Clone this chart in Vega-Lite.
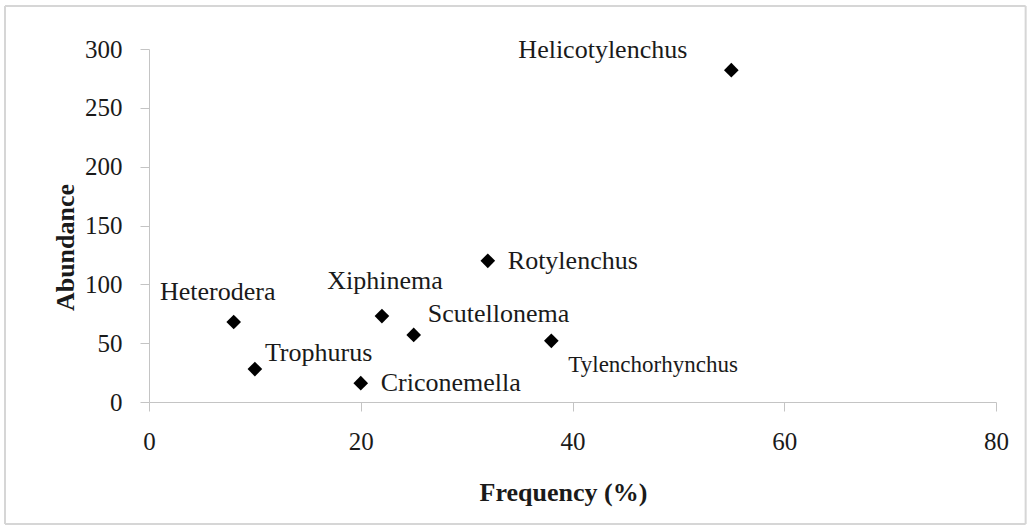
{
  "$schema": "https://vega.github.io/schema/vega-lite/v6.json",
  "width": 847,
  "height": 353,
  "autosize": {"type": "none"},
  "padding": {"left": 149, "top": 49, "right": 36, "bottom": 127},
  "background": "white",
  "config": {"view": {"stroke": null}, "font": "Liberation Serif"},
  "data": {
    "values": [
      {"genus": "Helicotylenchus", "freq": 55, "abund": 282},
      {"genus": "Rotylenchus", "freq": 32, "abund": 120},
      {"genus": "Heterodera", "freq": 8, "abund": 68},
      {"genus": "Xiphinema", "freq": 22, "abund": 73},
      {"genus": "Scutellonema", "freq": 25, "abund": 57},
      {"genus": "Tylenchorhynchus", "freq": 38, "abund": 52},
      {"genus": "Trophurus", "freq": 10, "abund": 28},
      {"genus": "Criconemella", "freq": 20, "abund": 16}
    ]
  },
  "layer": [
    {
      "mark": {"type": "point", "shape": "diamond", "filled": true, "color": "#000000", "opacity": 1, "size": 215},
      "encoding": {
        "x": {
          "field": "freq", "type": "quantitative", "title": "Frequency (%)",
          "scale": {"domain": [0, 80], "nice": false, "zero": false},
          "axis": {
            "values": [0, 20, 40, 60, 80], "grid": false,
            "domainColor": "#c4c4c4", "tickColor": "#c4c4c4", "tickSize": 9,
            "labelFont": "Liberation Serif", "labelFontSize": 25, "labelColor": "#1a1a1a",
            "labelPadding": 18, "labelFlush": false, "labelOverlap": false,
            "titleFont": "Liberation Serif", "titleFontSize": 26, "titleFontWeight": "bold", "titleColor": "#1a1a1a",
            "titleX": 414, "titleY": 98, "titleBaseline": "alphabetic", "titleAlign": "center"
          }
        },
        "y": {
          "field": "abund", "type": "quantitative", "title": "Abundance",
          "scale": {"domain": [0, 300], "nice": false, "zero": false},
          "axis": {
            "values": [0, 50, 100, 150, 200, 250, 300], "grid": false,
            "domainColor": "#c4c4c4", "tickColor": "#c4c4c4", "tickSize": 9,
            "labelFont": "Liberation Serif", "labelFontSize": 25, "labelColor": "#1a1a1a",
            "labelPadding": 18, "labelFlush": false, "labelOverlap": false,
            "titleFont": "Liberation Serif", "titleFontSize": 26, "titleFontWeight": "bold", "titleColor": "#1a1a1a",
            "titleX": -76, "titleY": 198, "titleAngle": 270, "titleBaseline": "alphabetic", "titleAlign": "center"
          }
        }
      }
    },
    {
      "transform": [{"filter": "datum.genus === 'Helicotylenchus'"}],
      "mark": {"type": "rule", "color": "#d6d6d6", "strokeWidth": 2, "clip": false},
      "encoding": {
        "x": {"datum": -13.6, "type": "quantitative"},
        "x2": {"datum": 82.8},
        "y": {"datum": 336.5, "type": "quantitative"}
      }
    },
    {
      "transform": [{"filter": "datum.genus === 'Helicotylenchus'"}],
      "mark": {"type": "rule", "color": "#d6d6d6", "strokeWidth": 2, "clip": false},
      "encoding": {
        "x": {"datum": -13.6, "type": "quantitative"},
        "x2": {"datum": 82.8},
        "y": {"datum": -103.6, "type": "quantitative"}
      }
    },
    {
      "transform": [{"filter": "datum.genus === 'Helicotylenchus'"}],
      "mark": {"type": "rule", "color": "#d6d6d6", "strokeWidth": 2, "clip": false},
      "encoding": {
        "x": {"datum": -13.6, "type": "quantitative"},
        "y": {"datum": 336.5, "type": "quantitative"},
        "y2": {"datum": -103.6}
      }
    },
    {
      "transform": [{"filter": "datum.genus === 'Helicotylenchus'"}],
      "mark": {"type": "rule", "color": "#d6d6d6", "strokeWidth": 2, "clip": false},
      "encoding": {
        "x": {"datum": 82.8, "type": "quantitative"},
        "y": {"datum": 336.5, "type": "quantitative"},
        "y2": {"datum": -103.6}
      }
    },
    {
      "transform": [{"filter": "datum.genus === 'Helicotylenchus'"}],
      "mark": {"type": "text", "align": "right", "baseline": "alphabetic", "dx": -44, "dy": -12, "font": "Liberation Serif", "fontSize": 26, "color": "#1a1a1a"},
      "encoding": {"x": {"field": "freq", "type": "quantitative", "title": "Frequency (%)"}, "y": {"field": "abund", "type": "quantitative", "title": "Abundance"}, "text": {"field": "genus"}}
    },
    {
      "transform": [{"filter": "datum.genus === 'Rotylenchus'"}],
      "mark": {"type": "text", "align": "left", "baseline": "alphabetic", "dx": 20, "dy": 8, "font": "Liberation Serif", "fontSize": 26, "color": "#1a1a1a"},
      "encoding": {"x": {"field": "freq", "type": "quantitative", "title": "Frequency (%)"}, "y": {"field": "abund", "type": "quantitative", "title": "Abundance"}, "text": {"field": "genus"}}
    },
    {
      "transform": [{"filter": "datum.genus === 'Heterodera'"}],
      "mark": {"type": "text", "align": "center", "baseline": "alphabetic", "dx": -16, "dy": -22, "font": "Liberation Serif", "fontSize": 26, "color": "#1a1a1a"},
      "encoding": {"x": {"field": "freq", "type": "quantitative", "title": "Frequency (%)"}, "y": {"field": "abund", "type": "quantitative", "title": "Abundance"}, "text": {"field": "genus"}}
    },
    {
      "transform": [{"filter": "datum.genus === 'Xiphinema'"}],
      "mark": {"type": "text", "align": "center", "baseline": "alphabetic", "dx": 3, "dy": -27, "font": "Liberation Serif", "fontSize": 26, "color": "#1a1a1a"},
      "encoding": {"x": {"field": "freq", "type": "quantitative", "title": "Frequency (%)"}, "y": {"field": "abund", "type": "quantitative", "title": "Abundance"}, "text": {"field": "genus"}}
    },
    {
      "transform": [{"filter": "datum.genus === 'Scutellonema'"}],
      "mark": {"type": "text", "align": "left", "baseline": "alphabetic", "dx": 14, "dy": -13, "font": "Liberation Serif", "fontSize": 26, "color": "#1a1a1a"},
      "encoding": {"x": {"field": "freq", "type": "quantitative", "title": "Frequency (%)"}, "y": {"field": "abund", "type": "quantitative", "title": "Abundance"}, "text": {"field": "genus"}}
    },
    {
      "transform": [{"filter": "datum.genus === 'Tylenchorhynchus'"}],
      "mark": {"type": "text", "align": "left", "baseline": "alphabetic", "dx": 17, "dy": 31, "font": "Liberation Serif", "fontSize": 23, "color": "#1a1a1a"},
      "encoding": {"x": {"field": "freq", "type": "quantitative", "title": "Frequency (%)"}, "y": {"field": "abund", "type": "quantitative", "title": "Abundance"}, "text": {"field": "genus"}}
    },
    {
      "transform": [{"filter": "datum.genus === 'Trophurus'"}],
      "mark": {"type": "text", "align": "left", "baseline": "alphabetic", "dx": 10, "dy": -8, "font": "Liberation Serif", "fontSize": 26, "color": "#1a1a1a"},
      "encoding": {"x": {"field": "freq", "type": "quantitative", "title": "Frequency (%)"}, "y": {"field": "abund", "type": "quantitative", "title": "Abundance"}, "text": {"field": "genus"}}
    },
    {
      "transform": [{"filter": "datum.genus === 'Criconemella'"}],
      "mark": {"type": "text", "align": "left", "baseline": "alphabetic", "dx": 20, "dy": 8, "font": "Liberation Serif", "fontSize": 26, "color": "#1a1a1a"},
      "encoding": {"x": {"field": "freq", "type": "quantitative", "title": "Frequency (%)"}, "y": {"field": "abund", "type": "quantitative", "title": "Abundance"}, "text": {"field": "genus"}}
    }
  ]
}
